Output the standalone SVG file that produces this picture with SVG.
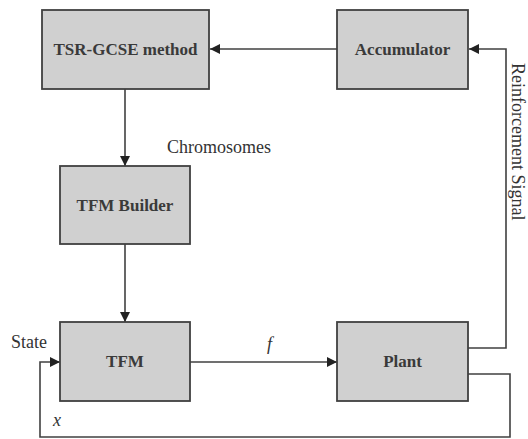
<svg xmlns="http://www.w3.org/2000/svg" width="528" height="439" viewBox="0 0 528 439">
<style>
.box{fill:#d0d0d0;stroke:#404040;stroke-width:1.8}
.bt{font-family:"Liberation Serif","Times New Roman",serif;font-size:17px;font-weight:bold;fill:#3a3a3a;text-anchor:middle}
.lb{font-family:"Liberation Serif","Times New Roman",serif;font-size:18px;fill:#333}
.ln{fill:none;stroke:#404040;stroke-width:1.6}
</style>
<defs>
<marker id="ah" viewBox="0 0 10 10" refX="10" refY="5" markerWidth="10" markerHeight="10" markerUnits="userSpaceOnUse" orient="auto">
<path d="M0,0 L10,5 L0,10 z" fill="#222"/>
</marker>
</defs>
<rect width="528" height="439" fill="#fff"/>
<g id="connectors">
<line class="ln" x1="337" y1="49" x2="210" y2="49" marker-end="url(#ah)"/>
<line class="ln" x1="125" y1="89" x2="125" y2="166" marker-end="url(#ah)"/>
<line class="ln" x1="125" y1="244" x2="125" y2="322" marker-end="url(#ah)"/>
<line class="ln" x1="190" y1="362" x2="337" y2="362" marker-end="url(#ah)"/>
<polyline class="ln" points="468,348 506,348 506,49 469,49" marker-end="url(#ah)"/>
<polyline class="ln" points="468,374 510,374 510,437 40,437 40,362 60,362" marker-end="url(#ah)"/>
</g>
<g id="tsr">
<rect class="box" x="42" y="10" width="167" height="79"/>
<text class="bt" x="125.5" y="55">TSR-GCSE method</text>
</g>
<g id="accumulator">
<rect class="box" x="337" y="10" width="131" height="79"/>
<text class="bt" x="402.5" y="55">Accumulator</text>
</g>
<g id="tfmbuilder">
<rect class="box" x="60" y="166" width="130" height="78"/>
<text class="bt" x="125" y="211">TFM Builder</text>
</g>
<g id="tfm">
<rect class="box" x="60" y="322" width="130" height="79"/>
<text class="bt" x="125" y="367">TFM</text>
</g>
<g id="plant">
<rect class="box" x="337" y="322" width="131" height="79"/>
<text class="bt" x="402.5" y="367">Plant</text>
</g>
<g id="labels">
<text class="lb" x="167" y="153">Chromosomes</text>
<text class="lb" x="11" y="348">State</text>
<text class="lb" x="267" y="350" font-style="italic">f</text>
<text class="lb" x="53" y="426" font-style="italic">x</text>
<text class="lb" font-size="17" transform="translate(512,63) rotate(90)">Reinforcement Signal</text>
</g>
</svg>
